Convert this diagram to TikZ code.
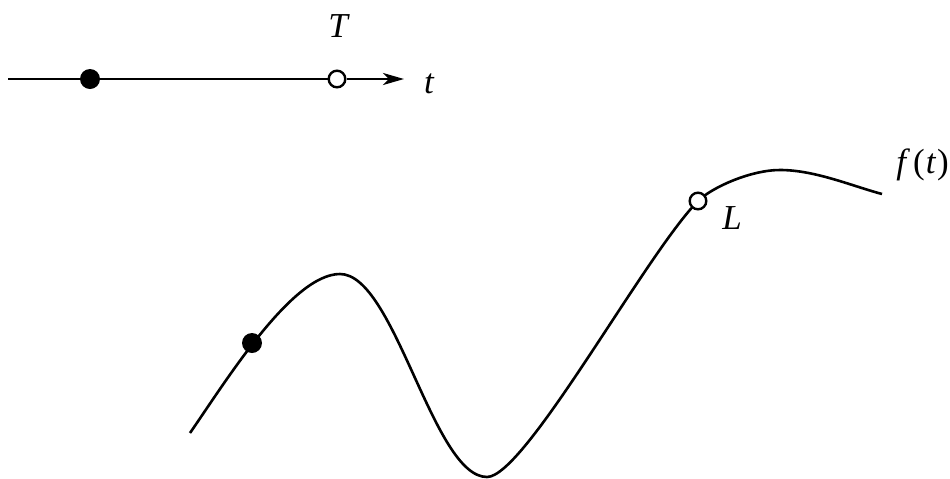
\documentclass[tikz,border=0pt]{standalone}
\usepackage{fontspec}
\setmainfont{Liberation Serif}
\usetikzlibrary{arrows.meta}
\begin{document}
\begin{tikzpicture}[x=0.5pt,y=-0.5pt,
  curveline/.style={line width=1.3pt},
  fdot/.style={circle,fill=black,inner sep=0pt,minimum size=10pt},
  odot/.style={circle,draw=black,fill=white,line width=1.2pt,inner sep=0pt,minimum size=8.3pt},
  lbl/.style={font=\fontsize{17.5}{21}\selectfont\itshape,inner sep=0pt}]
\useasboundingbox (0,0) rectangle (950,478);
% top axis
\coordinate (start) at (8,79);
\coordinate (tip) at (404,79);
\node[fdot] (d1) at (90,79) {};
\node[odot] (o1) at (337,79) {};
\draw[curveline] (start) -- (d1);
\draw[curveline] (d1) -- (o1);
\draw[curveline,-{Stealth[length=10.5pt,width=6pt,inset=3pt]}] (o1) -- (tip);
\node[lbl] (T) at (338,26) {T};
\node[lbl] (tl) at (429,84) {t};
% curve
\coordinate (c0) at (190,433);
\coordinate (c1) at (340,274);
\coordinate (c2) at (487,477);
\coordinate (c3) at (698,201);
\coordinate (c4) at (780,170);
\coordinate (c5) at (882,194);
\draw[curveline] (c0) .. controls (226,381) and (292,274) .. (c1)
  .. controls (395,274) and (433,477) .. (c2)
  .. controls (525,477) and (645,255) .. (c3)
  .. controls (711,188) and (750,170) .. (c4)
  .. controls (815,170) and (852,186) .. (c5);
\node[fdot] (d2) at (252,343) {};
\node[odot] (o2) at (c3) {};
\node[lbl] (L) at (732,218) {L};
\node[lbl,anchor=west] (f) at (896,165) {f\kern3.5pt\upshape(\kern0.5pt\itshape t\kern0.8pt\upshape)};
\end{tikzpicture}
\end{document}
